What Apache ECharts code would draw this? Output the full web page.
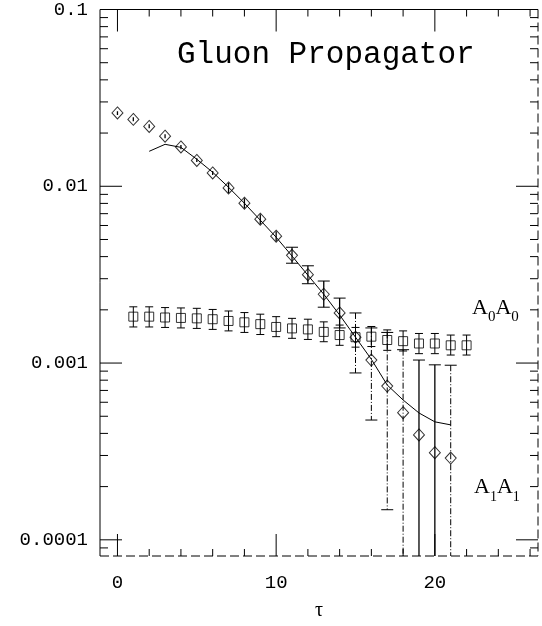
<!DOCTYPE html>
<html><head><meta charset="utf-8">
<script src="https://cdn.jsdelivr.net/npm/echarts@6/dist/echarts.min.js"></script>
<style>html,body{margin:0;padding:0;background:#fff}#c{width:542px;height:626px}</style>
</head><body><div id="c"></div>
<script>
// ---- data ----
const tauA1 = [0,1,2,3,4,5,6,7,8,9,10,11,12,13,14,15,16,17,18,19,20,21];
const a1Values = [0.0260,0.0239,0.0218,0.0192,0.0167,0.0140,0.0119,0.00978,0.00802,0.00651,0.00522,0.00407,0.00316,0.00245,0.00192,0.00140,0.00104,0.000741,0.000524,0.000392,0.000311,0.000290];
const a1ErrHigh = [0.0266,0.0246,0.0224,0.0197,0.0171,0.0144,0.0122,0.01044,0.00856,0.00695,0.00557,0.00452,0.00355,0.00291,0.00233,0.00192,0.00158,0.00149,0.00119,0.00104,0.000977,0.000972];
const a1ErrLow = [0.0253,0.0233,0.0213,0.0187,0.0162,0.0137,0.0116,0.00916,0.00751,0.00610,0.00489,0.00367,0.00281,0.00207,0.00158,0.000879,0.000476,0.000148,null,null,null,null];

const tauA0 = [1,2,3,4,5,6,7,8,9,10,11,12,13,14,15,16,17,18,19,20,21,22];
const a0Values = [0.00183,0.00183,0.00181,0.00180,0.00179,0.00177,0.00173,0.00170,0.00166,0.00160,0.00157,0.00155,0.00150,0.00144,0.00140,0.00141,0.00135,0.00133,0.00129,0.00129,0.00126,0.00126];
const a0ErrHigh = [0.00208,0.00208,0.00206,0.00205,0.00204,0.00201,0.00197,0.00193,0.00189,0.00183,0.00179,0.00177,0.00171,0.00164,0.00159,0.00161,0.00154,0.00152,0.00147,0.00147,0.00144,0.00144];
const a0ErrLow = [0.00160,0.00160,0.00159,0.00158,0.00157,0.00155,0.00152,0.00149,0.00145,0.00141,0.00138,0.00136,0.00132,0.00126,0.00123,0.00124,0.00118,0.00117,0.00113,0.00113,0.00111,0.00111];

const fitTau = [2,3,4,5,6,7,8,9,10,11,12,13,14,15,16,17,18,19,20,21];
const fitValues = [0.01577,0.01727,0.0166,0.01422,0.0120,0.00987,0.00802,0.00643,0.00515,0.00403,0.00314,0.00245,0.00187,0.00140,0.00105,0.000751,0.000618,0.000522,0.000465,0.000447];

const xTickLabels = [0,10,20];
const xMinorTicks = [2,4,6,8,12,14,16,18,22,24,26];
const yTickValues = [0.0001,0.001,0.01,0.1];
const yTickLabels = ['0.0001','0.001','0.01','0.1'];
const titleText = 'Gluon Propagator';

// ---- layout / style ----
const X_MIN = -1.1, X_MAX = 26.5, Y_MIN = 8.1e-5, Y_MAX = 0.1;
const dashDotBarTaus = [15,16,17,18,21];
const mono = 'Liberation Mono';
const serif = 'Liberation Serif';

const chart = echarts.init(document.getElementById('c'));

// error bar: dims [x, hi, lo(or -1 = below axis), centre]
function errBarRenderer(capHalf, minCapGap, styleFor) {
  return function (params, api) {
    const x = api.value(0), hi = api.value(1), lo = api.value(2), mid = api.value(3);
    const cs = params.coordSys;
    const top = api.coord([x, hi]);
    const c = api.coord([x, mid]);
    const hasLo = lo > 0;
    const bot = hasLo ? api.coord([x, lo]) : [top[0], cs.y + cs.height];
    const st = styleFor(x);
    const cap = {stroke:'#000', lineWidth:1};
    const ch = [
      {type:'line', shape:{x1:top[0], y1:top[1], x2:bot[0], y2:bot[1]}, style:st}
    ];
    if (c[1] - top[1] > minCapGap)
      ch.push({type:'line', shape:{x1:top[0]-capHalf, y1:top[1], x2:top[0]+capHalf, y2:top[1]}, style:cap});
    if (hasLo && bot[1] - c[1] > minCapGap)
      ch.push({type:'line', shape:{x1:bot[0]-capHalf, y1:bot[1], x2:bot[0]+capHalf, y2:bot[1]}, style:cap});
    return {type:'group', children: ch};
  };
}

function frameRenderer(params, api) {
  const cs = params.coordSys;
  const L = cs.x, R = cs.x + cs.width, T = cs.y, B = cs.y + cs.height;
  const st = {stroke:'#000', lineWidth:1};
  const ch = [];
  const ln = (x1,y1,x2,y2,s) => ch.push({type:'line', shape:{x1,y1,x2,y2}, style: s || st});
  ln(L,T,L,B); ln(L,T,R,T);
  ln(R,T,R,B,{stroke:'#000', lineWidth:1, lineDash:[9,4]});
  ln(L,B,R,B,{stroke:'#000', lineWidth:1, lineDash:[9,4]});
  xTickLabels.forEach(v => { const x = api.coord([v, Y_MAX])[0]; ln(x,B,x,B-22); ln(x,T,x,T+22); });
  xMinorTicks.forEach(v => { const x = api.coord([v, Y_MAX])[0]; ln(x,B,x,B-7); ln(x,T,x,T+7); });
  yTickValues.forEach(v => { const y = api.coord([X_MIN, v])[1]; ln(L,y,L+22,y); ln(R,y,R-22,y); });
  [1e-5,1e-4,1e-3,1e-2].forEach(d => {
    for (let k = 2; k <= 9; k++) {
      const v = k * d;
      if (v < Y_MIN || v > Y_MAX) continue;
      const y = api.coord([X_MIN, v])[1];
      ln(L,y,L+8,y); ln(R,y,R-8,y);
    }
  });
  return {type:'group', children: ch};
}

const richA = (subSize) => ({
  a: {fontFamily: serif, fontSize: 22, lineHeight: 28, verticalAlign: 'top', fill:'#000'},
  s: {fontFamily: serif, fontSize: subSize, lineHeight: 28, verticalAlign: 'bottom', fill:'#000'}
});

const option = {
  animation: false,
  backgroundColor: '#fff',
  title: {
    text: titleText, left: 172, top: 34,
    textStyle: {fontFamily: mono, fontSize: 31, fontWeight: 'normal', color: '#000'}
  },
  grid: {left: 100, right: 4, top: 9, bottom: 70},
  xAxis: {
    type: 'value', min: X_MIN, max: X_MAX,
    name: 'τ', nameLocation: 'middle', nameGap: 45,
    nameTextStyle: {fontFamily: serif, fontSize: 20, color: '#000'},
    axisLine: {show: false}, axisTick: {show: false}, splitLine: {show: false},
    axisLabel: {customValues: xTickLabels, fontFamily: mono, fontSize: 19, color: '#000', margin: 17}
  },
  yAxis: {
    type: 'log', logBase: 10, min: Y_MIN, max: Y_MAX,
    axisLine: {show: false}, axisTick: {show: false}, splitLine: {show: false},
    axisLabel: {
      fontFamily: mono, fontSize: 19, color: '#000', margin: 12, showMinLabel: false,
      formatter: function (v) {
        for (let i = 0; i < yTickValues.length; i++) {
          if (Math.abs(Math.log10(v) - Math.log10(yTickValues[i])) < 1e-6) return yTickLabels[i];
        }
        return '';
      }
    }
  },
  graphic: [
    {type:'text', left: 472, top: 297, style: {text: '{a|A}{s|0}{a|A}{s|0}', rich: richA(15)}},
    {type:'text', left: 474, top: 476, style: {text: '{a|A}{s|1}{a|A}{s|1}', rich: richA(14)}}
  ],
  series: [
    {
      type: 'custom', name: 'frame', silent: true, clip: false, z: 1,
      data: [[0, 0.01]],
      renderItem: frameRenderer
    },
    {
      type: 'custom', name: 'A0A0 err', silent: true, clip: true, z: 2,
      encode: {x: 0, y: 1},
      data: tauA0.map((t,i) => [t, a0ErrHigh[i], a0ErrLow[i], a0Values[i]]),
      renderItem: errBarRenderer(4, 5, () => ({stroke:'#000', lineWidth:1}))
    },
    {
      type: 'custom', name: 'A1A1 err', silent: true, clip: true, z: 2,
      encode: {x: 0, y: 1},
      data: tauA1.map((t,i) => [t, a1ErrHigh[i], a1ErrLow[i] == null ? -1 : a1ErrLow[i], a1Values[i]]),
      renderItem: errBarRenderer(6, 7, (t) => dashDotBarTaus.indexOf(t) >= 0
        ? {stroke:'#000', lineWidth:1, lineDash:[6,2,1,2]}
        : {stroke:'#000', lineWidth:1.3})
    },
    {
      type: 'line', name: 'fit', silent: true, z: 3,
      data: fitTau.map((t,i) => [t, fitValues[i]]),
      showSymbol: false, symbol: 'none',
      lineStyle: {color: '#000', width: 1}
    },
    {
      type: 'scatter', name: 'A0A0', silent: true, z: 4,
      data: tauA0.map((t,i) => [t, a0Values[i]]),
      symbol: 'rect', symbolSize: [9, 9],
      itemStyle: {color: 'rgba(0,0,0,0)', borderColor: '#000', borderWidth: 1}
    },
    {
      type: 'scatter', name: 'A1A1', silent: true, z: 4,
      data: tauA1.map((t,i) => [t, a1Values[i]]),
      symbol: 'diamond', symbolSize: [11, 12],
      itemStyle: {color: 'rgba(0,0,0,0)', borderColor: '#000', borderWidth: 1}
    }
  ]
};
chart.setOption(option);
</script>
</body></html>
